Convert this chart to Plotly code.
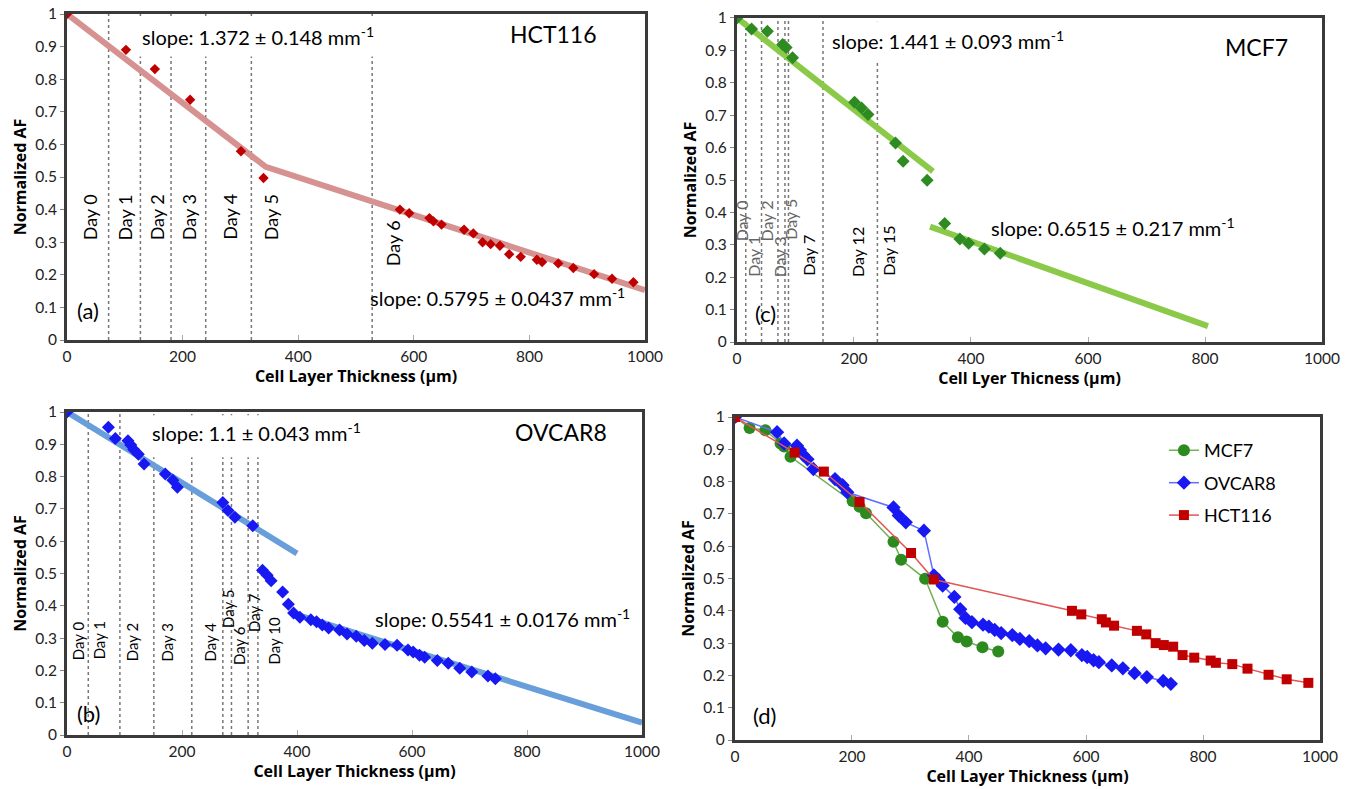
import plotly.graph_objects as go

FONT = "Lato"
TFONT = "Open Sans"

# ---------------- data ----------------
# HCT116
hct_x = [0, 102, 152, 213, 301, 340, 576, 592, 627, 634, 648, 687, 703, 719, 733, 749,
         765, 785, 813, 822, 850, 876, 912, 943, 980]
hct_y = [1.0, 0.890, 0.831, 0.737, 0.579, 0.497, 0.400, 0.389, 0.374, 0.364, 0.354, 0.338,
         0.327, 0.300, 0.294, 0.289, 0.263, 0.255, 0.246, 0.239, 0.235, 0.221, 0.202, 0.188, 0.177]
hct_fit_x = [0, 344, 1000]
hct_fit_y = [1.0, 0.531, 0.153]

# OVCAR8
ovc_x = [0, 72, 84, 106, 111, 116, 124, 134, 171, 184, 192, 271, 280, 292, 323, 340, 348,
         355, 375, 385, 394, 405, 424, 434, 444, 455, 474, 487, 503, 517, 531, 553, 574, 593,
         602, 613, 622, 644, 663, 683, 704, 732, 745]
ovc_y = [1.0, 0.953, 0.918, 0.911, 0.898, 0.884, 0.869, 0.839, 0.808, 0.789, 0.767, 0.720,
         0.695, 0.674, 0.648, 0.510, 0.495, 0.478, 0.443, 0.405, 0.378, 0.365, 0.357, 0.351,
         0.341, 0.331, 0.325, 0.313, 0.306, 0.293, 0.284, 0.280, 0.278, 0.263, 0.257, 0.247,
         0.241, 0.231, 0.222, 0.207, 0.195, 0.183, 0.174]
ovc_fit1_x = [0, 400]
ovc_fit1_y = [1.0, 0.562]
ovc_fit2_x = [395, 1000]
ovc_fit2_y = [0.375, 0.038]

# MCF7
mcf_x = [0, 25, 52, 78, 84, 95, 201, 213, 224, 271, 284, 325, 355, 381, 396, 423, 450]
mcf_y = [1.0, 0.966, 0.959, 0.918, 0.909, 0.877, 0.740, 0.722, 0.702, 0.614, 0.558, 0.499,
         0.366, 0.318, 0.305, 0.287, 0.274]
mcf_fit1_x = [0, 335]
mcf_fit1_y = [1.0, 0.527]
mcf_fit2_x = [330, 805]
mcf_fit2_y = [0.356, 0.049]

# Day boundaries and labels
day_lines_a = [72, 127, 180, 240, 319, 528]
day_names_a = ["Day 0", "Day 1", "Day 2", "Day 3", "Day 4", "Day 5", "Day 6"]
day_lx_a = [40, 101, 156, 211, 283, 353, 564]
day_ly_a = [0.30, 0.30, 0.30, 0.30, 0.30, 0.30, 0.22]

day_lines_b = [37, 92, 151, 217, 271, 286, 315, 332]
day_names_b = ["Day 0", "Day 1", "Day 2", "Day 3", "Day 4", "Day 5", "Day 6", "Day 7", "Day 10"]
day_lx_b = [19, 55, 113, 174, 248, 280, 300, 325, 360]
day_ly_b = [0.227, 0.227, 0.222, 0.222, 0.222, 0.325, 0.211, 0.314, 0.211]

day_lines_c = [15, 42, 70, 82, 88, 147, 240]
day_names_c = ["Day 0", "Day 1", "Day 2", "Day 3", "Day 5", "Day 7", "Day 12", "Day 15"]
day_lx_c = [8, 29, 51, 73, 90, 123, 205, 259]
day_ly_c = [0.305, 0.197, 0.305, 0.194, 0.31, 0.2, 0.194, 0.197]
day_col_c = ["#666", "#666", "#666", "#666", "#666", "black", "black", "black"]

# ---------------- figure ----------------
fig = go.Figure()

def add(x, y, ax, **kw):
    xa, ya = ax
    fig.add_trace(go.Scatter(x=x, y=y, xaxis=xa, yaxis=ya, showlegend=False,
                             hoverinfo="skip", **kw))

FIT_A = "rgb(214,146,145)"
FIT_B = "rgb(104,158,218)"
FIT_C = "rgb(138,202,72)"

# (a)
add(hct_fit_x, hct_fit_y, ("x", "y"), mode="lines", line=dict(color=FIT_A, width=6))
add(hct_x, hct_y, ("x", "y"), mode="markers",
    marker=dict(symbol="diamond", size=8, color="#C00000"))
# (b)
add(ovc_fit1_x, ovc_fit1_y, ("x2", "y2"), mode="lines", line=dict(color=FIT_B, width=6))
add(ovc_fit2_x, ovc_fit2_y, ("x2", "y2"), mode="lines", line=dict(color=FIT_B, width=6))
add(ovc_x, ovc_y, ("x2", "y2"), mode="markers",
    marker=dict(symbol="diamond", size=10, color="#1818F2"))
# (c)
add(mcf_fit1_x, mcf_fit1_y, ("x3", "y3"), mode="lines", line=dict(color=FIT_C, width=6))
add(mcf_fit2_x, mcf_fit2_y, ("x3", "y3"), mode="lines", line=dict(color=FIT_C, width=6))
add(mcf_x, mcf_y, ("x3", "y3"), mode="markers",
    marker=dict(symbol="diamond", size=10, color="#2E8B22"))
# (d)
fig.add_trace(go.Scatter(x=mcf_x, y=mcf_y, xaxis="x4", yaxis="y4", name="MCF7",
                         legendgroup="m", mode="lines+markers",
                         line=dict(color="rgb(115,175,85)", width=1.5),
                         marker=dict(symbol="circle", size=12, color="#2D8A1E")))
fig.add_trace(go.Scatter(x=ovc_x, y=ovc_y, xaxis="x4", yaxis="y4", name="OVCAR8",
                         legendgroup="o", mode="lines+markers",
                         line=dict(color="rgb(95,110,255)", width=1.5),
                         marker=dict(symbol="diamond", size=11, color="#1818F2")))
fig.add_trace(go.Scatter(x=hct_x, y=hct_y, xaxis="x4", yaxis="y4", name="HCT116",
                         legendgroup="h", mode="lines+markers",
                         line=dict(color="rgb(225,85,85)", width=1.5),
                         marker=dict(symbol="square", size=10, color="#C00000")))

# ---------------- shapes ----------------
shapes = []
def vlines(xs, xr, yr):
    for v in xs:
        shapes.append(dict(type="line", xref=xr, yref=yr, x0=v, x1=v, y0=0, y1=1,
                           layer="below", line=dict(color="#777", width=1.5, dash="dot")))
def whitebox(xr, yr, x0, x1, y0, y1):
    shapes.append(dict(type="rect", xref=xr, yref=yr, x0=x0, x1=x1, y0=y0, y1=y1,
                       layer="below", line=dict(width=0), fillcolor="white"))

vlines(day_lines_a, "x", "y")
vlines(day_lines_b, "x2", "y2")
vlines(day_lines_c, "x3", "y3")
whitebox("x", "y", 114, 545, 0.87, 0.99)
whitebox("x2", "y2", 135, 511, 0.86, 0.99)
whitebox("x3", "y3", 153, 571, 0.867, 0.99)

# ---------------- annotations ----------------
ann = []
def text(xr, yr, x, y, t, size=20, color="black", **kw):
    d = dict(xref=xr, yref=yr, x=x, y=y, text=t, showarrow=False,
             font=dict(family=FONT, size=size, color=color))
    d.update(kw)
    ann.append(d)

MM = " mm<sup>-1</sup>"
text("x", "y", 330, 0.934, "slope: 1.372 ± 0.148" + MM)
text("x", "y", 744, 0.131, "slope: 0.5795 ± 0.0437" + MM)
text("x", "y", 841, 0.939, "HCT116", size=23)
text("x", "y", 37, 0.092, "(a)", size=22)

text("x2", "y2", 329, 0.938, "slope: 1.1 ± 0.043" + MM)
text("x2", "y2", 758, 0.363, "slope: 0.5541 ± 0.0176" + MM)
text("x2", "y2", 859, 0.939, "OVCAR8", size=23)
text("x2", "y2", 38, 0.067, "(b)", size=22)

text("x3", "y3", 360, 0.933, "slope: 1.441 ± 0.093" + MM)
text("x3", "y3", 643, 0.356, "slope: 0.6515 ± 0.217" + MM)
text("x3", "y3", 888, 0.911, "MCF7", size=23)
text("x3", "y3", 48, 0.089, "(c)", size=22)

text("x4", "y4", 51, 0.077, "(d)", size=22)

for n, lx, ly in zip(day_names_a, day_lx_a, day_ly_a):
    text("x", "y", lx, ly, n, size=18, textangle=-90, yanchor="bottom")
for n, lx, ly in zip(day_names_b, day_lx_b, day_ly_b):
    text("x2", "y2", lx, ly, n, size=15, textangle=-90, yanchor="bottom")
for n, lx, ly, c in zip(day_names_c, day_lx_c, day_ly_c, day_col_c):
    text("x3", "y3", lx, ly, n, size=16, color=c, textangle=-90, yanchor="bottom")

# ---------------- axes ----------------
def xax(domain, anchor, title):
    return dict(domain=domain, anchor=anchor, range=[0, 1000], tickvals=[0, 200, 400, 600, 800, 1000],
                showgrid=False, zeroline=False, showline=True, linewidth=3, linecolor="#3a3a3a",
                mirror=True, ticks="inside", ticklen=5, tickcolor="#aaa",
                ticklabeloverflow="allow",
                tickfont=dict(family=FONT, size=15.5, color="#222"),
                title=dict(text="<b>" + title + "</b>", standoff=4,
                           font=dict(family=TFONT, size=16, color="black")),
                automargin=False)

def yax(domain, anchor):
    return dict(domain=domain, anchor=anchor, range=[0, 1], dtick=0.1, tick0=0,
                showgrid=False, zeroline=False, showline=True, linewidth=3, linecolor="#3a3a3a",
                mirror=True, ticks="outside", ticklen=4, tickcolor="#888",
                ticklabeloverflow="allow",
                tickfont=dict(family=FONT, size=15.5, color="#222"),
                title=dict(text="<b>Normalized AF</b>", standoff=5,
                           font=dict(family=TFONT, size=16, color="black")),
                automargin=False)

fig.update_layout(
    width=1341, height=781,
    margin=dict(l=0, r=0, t=0, b=0),
    paper_bgcolor="white", plot_bgcolor="white",
    font=dict(family=FONT),
    xaxis=xax([0.0440, 0.4750], "y", "Cell Layer Thickness (µm)"),
    yaxis=yax([0.5749, 0.9923], "x"),
    xaxis2=xax([0.0440, 0.4728], "y2", "Cell Layer Thickness (µm)"),
    yaxis2=yax([0.0691, 0.4827], "x2"),
    xaxis3=xax([0.5436, 0.9799], "y3", "Cell Lyer Thicness (µm)"),
    yaxis3=yax([0.5723, 0.9872], "x3"),
    xaxis4=xax([0.5421, 0.9784], "y4", "Cell Layer Thickness (µm)"),
    yaxis4=yax([0.0627, 0.4763], "x4"),
    shapes=shapes,
    annotations=ann,
    legend=dict(x=0.862, y=0.457, xanchor="left", yanchor="top",
                font=dict(family=FONT, size=18, color="black"),
                bgcolor="rgba(0,0,0,0)", tracegroupgap=6, itemwidth=30),
)

fig.write_html("out.html")
